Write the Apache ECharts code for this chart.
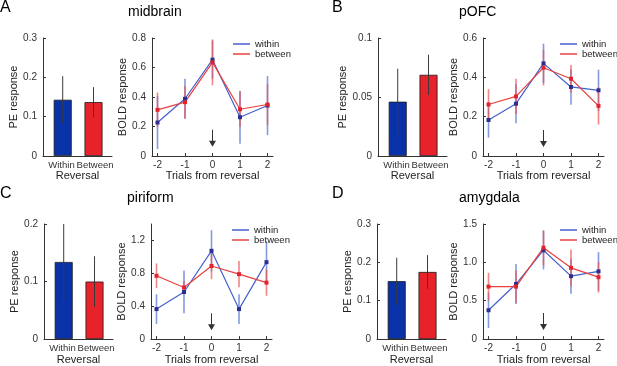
<!DOCTYPE html>
<html>
<head>
<meta charset="utf-8">
<script src="https://cdn.jsdelivr.net/npm/echarts@6/dist/echarts.min.js"></script>
<style>
  html, body { margin: 0; padding: 0; background: #fff; }
  #chart { width: 617px; height: 366px; }
</style>
</head>
<body>
<div id="chart"></div>
<script>
// values
const letters = ["A", "B", "C", "D"];
const regions = ["midbrain", "pOFC", "piriform", "amygdala"];
const groups = ["Within", "Between"];
const trials = [-2, -1, 0, 1, 2];

// PE response bars (Within, Between)
const peMean = [[0.143, 0.137], [0.046, 0.0688], [0.134, 0.100], [0.151, 0.175]];
const peErr = [[0.060, 0.038], [0.028, 0.017], [0.066, 0.044], [0.061, 0.044]];
const peTicks = [[0, 0.1, 0.2, 0.3], [0, 0.05, 0.1], [0, 0.1, 0.2], [0, 0.1, 0.2, 0.3]];
const peTickLabels = [["0", "0.1", "0.2", "0.3"], ["0", "0.05", "0.1"], ["0", "0.1", "0.2"], ["0", "0.1", "0.2", "0.3"]];

// BOLD response per trial
const boldWithin = [
  [0.227, 0.388, 0.653, 0.263, 0.342],
  [0.183, 0.266, 0.471, 0.351, 0.334],
  [0.365, 0.573, 1.074, 0.365, 0.936],
  [0.376, 0.718, 1.158, 0.820, 0.883]
];
const boldWithinErr = [
  [0.18, 0.135, 0.13, 0.18, 0.20],
  [0.09, 0.10, 0.10, 0.09, 0.105],
  [0.18, 0.26, 0.25, 0.18, 0.25],
  [0.23, 0.26, 0.25, 0.23, 0.25]
];
const boldBetween = [
  [0.313, 0.365, 0.635, 0.317, 0.349],
  [0.262, 0.303, 0.449, 0.393, 0.255],
  [0.770, 0.628, 0.889, 0.790, 0.687],
  [0.684, 0.684, 1.191, 0.929, 0.807]
];
const boldBetweenErr = [
  [0.117, 0.11, 0.155, 0.12, 0.14],
  [0.078, 0.09, 0.09, 0.07, 0.095],
  [0.15, 0.08, 0.16, 0.16, 0.16],
  [0.18, 0.21, 0.23, 0.24, 0.20]
];
const boldMax = [0.8, 0.6, 1.4, 1.5];
const boldTicks = [[0, 0.2, 0.4, 0.6, 0.8], [0, 0.2, 0.4, 0.6], [0, 0.4, 0.8, 1.2], [0, 0.5, 1, 1.5]];
const boldTickLabels = [
  ["0", "0.2", "0.4", "0.6", "0.8"],
  ["0", "0.2", "0.4", "0.6"],
  ["0", "0.4", "0.8", "1.2"],
  ["0", "0.5", "1.0", "1.5"]
];
const trialLabels = ["-2", "-1", "0", "1", "2"];
// reversal arrow (y value where the arrow sits)
const arrowY = [0.12, 0.089, 0.21, 0.23];

// layout / style
const barLeft = [43, 378, 44, 377];
const lineLeft = [152, 483, 151, 483];
const panelTop = [38, 38, 224, 224];
const panelX = [0, 332, 0, 332];
const groupLabelAt = [0.96, 2.05]; // label centres sit a bit apart from the bars, as in the figure
const barColors = ["#0a32a8", "#e8222a"];
const blue = "#4461cc";
const red = "#e8413f";
const blueErr = "rgba(80,110,210,0.7)";
const redErr = "rgba(235,80,80,0.7)";
const axisColor = "#333";
const font = "Liberation Sans, Arial, sans-serif";

function errRender(color, width) {
  return function(params, api) {
    let x = api.value(0), m = api.value(1), e = api.value(2);
    let p1 = api.coord([x, m - e]);
    let p2 = api.coord([x, m + e]);
    return {
      type: "line",
      shape: { x1: p1[0], y1: p1[1], x2: p2[0], y2: p2[1] },
      style: { stroke: color, lineWidth: width }
    };
  };
}

function lookup(ticks, labels) {
  return function(v) {
    for (let k = 0; k < ticks.length; k++) {
      if (Math.abs(ticks[k] - v) < 1e-9) return labels[k];
    }
    return "";
  };
}

let grid = [], xAxis = [], yAxis = [], series = [], title = [], legend = [];
const axisCommon = {
  axisLine: { onZero: false, lineStyle: { color: axisColor, width: 1 } },
  axisTick: { inside: true, length: 3, lineStyle: { color: axisColor } },
  axisLabel: { color: "#333", fontSize: 10, fontFamily: font, hideOverlap: false },
  splitLine: { show: false },
  nameTextStyle: { color: "#222", fontSize: 11, fontFamily: font }
};

for (let i = 0; i < 4; i++) {
  let top = panelTop[i];
  title.push({
    text: letters[i], left: panelX[i], top: top - 38, padding: 0,
    textStyle: { fontSize: 16, fontWeight: "normal", color: "#000", fontFamily: font }
  });
  title.push({
    text: regions[i], left: lineLeft[i] - 24, top: top - 33, padding: 0,
    textStyle: { fontSize: 14, fontWeight: "normal", color: "#000", fontFamily: font }
  });

  // bar panel
  grid.push({ left: barLeft[i], top: top, width: 69, height: 118 });
  xAxis.push(Object.assign({}, axisCommon, {
    gridIndex: 2 * i, type: "value", min: 0.36, max: 2.6,
    name: "Reversal", nameLocation: "middle", nameGap: 10,
    axisTick: { show: false },
    axisLabel: Object.assign({}, axisCommon.axisLabel, {
      customValues: groupLabelAt, margin: 4, fontSize: 9.5,
      formatter: v => (v < 1.5 ? groups[0] : groups[1])
    })
  }));
  yAxis.push(Object.assign({}, axisCommon, {
    gridIndex: 2 * i, type: "value", min: 0, max: peTicks[i][peTicks[i].length - 1],
    name: "PE response", nameLocation: "middle", nameGap: 17,
    axisTick: Object.assign({}, axisCommon.axisTick, { customValues: peTicks[i] }),
    axisLabel: Object.assign({}, axisCommon.axisLabel, {
      customValues: peTicks[i], margin: 6, formatter: lookup(peTicks[i], peTickLabels[i])
    })
  }));
  series.push({
    type: "bar", xAxisIndex: 2 * i, yAxisIndex: 2 * i, barWidth: 18, silent: true,
    itemStyle: { borderColor: "#1a1a1a", borderWidth: 0.8 },
    data: groups.map((g, j) => ({ value: [j + 1, peMean[i][j]], itemStyle: { color: barColors[j] } }))
  });
  series.push({
    type: "custom", xAxisIndex: 2 * i, yAxisIndex: 2 * i, silent: true, z: 3,
    renderItem: errRender("#3a3a3a", 1),
    data: groups.map((g, j) => [j + 1, peMean[i][j], peErr[i][j]])
  });

  // line panel
  grid.push({ left: lineLeft[i], top: top, width: 121, height: 118 });
  xAxis.push(Object.assign({}, axisCommon, {
    gridIndex: 2 * i + 1, type: "value", min: -2.2, max: 2.2,
    name: "Trials from reversal", nameLocation: "middle", nameGap: 10,
    axisTick: Object.assign({}, axisCommon.axisTick, { customValues: trials }),
    axisLabel: Object.assign({}, axisCommon.axisLabel, {
      customValues: trials, margin: 4, formatter: lookup(trials, trialLabels)
    })
  }));
  yAxis.push(Object.assign({}, axisCommon, {
    gridIndex: 2 * i + 1, type: "value", min: 0, max: boldMax[i],
    name: "BOLD response", nameLocation: "middle", nameGap: 14,
    axisTick: Object.assign({}, axisCommon.axisTick, { customValues: boldTicks[i] }),
    axisLabel: Object.assign({}, axisCommon.axisLabel, {
      customValues: boldTicks[i], margin: 6, formatter: lookup(boldTicks[i], boldTickLabels[i])
    })
  }));
  series.push({
    type: "custom", xAxisIndex: 2 * i + 1, yAxisIndex: 2 * i + 1, silent: true,
    renderItem: errRender(blueErr, 1.6),
    data: trials.map((t, k) => [t, boldWithin[i][k], boldWithinErr[i][k]])
  });
  series.push({
    name: "within", type: "line", xAxisIndex: 2 * i + 1, yAxisIndex: 2 * i + 1,
    symbol: "rect", symbolSize: 4, silent: true,
    lineStyle: { color: blue, width: 1.2 }, itemStyle: { color: "#2b2f8f" },
    data: trials.map((t, k) => [t, boldWithin[i][k]])
  });
  series.push({
    type: "custom", xAxisIndex: 2 * i + 1, yAxisIndex: 2 * i + 1, silent: true,
    renderItem: errRender(redErr, 1.6),
    data: trials.map((t, k) => [t, boldBetween[i][k], boldBetweenErr[i][k]])
  });
  series.push({
    name: "between", type: "line", xAxisIndex: 2 * i + 1, yAxisIndex: 2 * i + 1,
    symbol: "rect", symbolSize: 4, silent: true,
    lineStyle: { color: red, width: 1.2 }, itemStyle: { color: "#e2252d" },
    data: trials.map((t, k) => [t, boldBetween[i][k]])
  });
  series.push({
    type: "scatter", xAxisIndex: 2 * i + 1, yAxisIndex: 2 * i + 1, silent: true,
    symbol: "path://M3.5,0 L4.5,0 L4.5,11 L7.5,11 L4,17 L0.5,11 L3.5,11 Z",
    symbolSize: [7, 17], itemStyle: { color: "#000" },
    data: [[0, arrowY[i]]]
  });

  legend.push({
    orient: "vertical", left: lineLeft[i] + (i % 2 ? 77 : 81), top: top + 1, padding: 0,
    itemWidth: 17, itemHeight: 1.5, itemGap: 0, icon: "rect", selectedMode: false,
    textStyle: { fontSize: 9.5, lineHeight: 8, color: "#222", fontFamily: font },
    data: [
      { name: "within", itemStyle: { color: blue } },
      { name: "between", itemStyle: { color: red } }
    ]
  });
}

let chart = echarts.init(document.getElementById("chart"));
chart.setOption({
  animation: false,
  backgroundColor: "#fff",
  textStyle: { fontFamily: font },
  title: title,
  legend: legend,
  grid: grid,
  xAxis: xAxis,
  yAxis: yAxis,
  series: series
});
</script>
</body>
</html>
